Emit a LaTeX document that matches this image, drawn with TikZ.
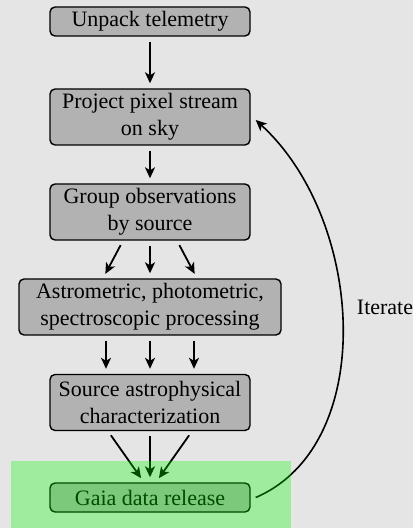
\documentclass[tikz,border=0pt]{standalone}
\usepackage{fontspec}
\setmainfont{Liberation Serif}
\usetikzlibrary{arrows.meta}
\begin{document}
\begin{tikzpicture}[x=0.5pt,y=-0.5pt,
  stage/.style={draw=black,line width=0.7pt,fill=black!30,rounded corners=2.5pt,
    minimum width=100pt,align=center,inner sep=0pt,
    font=\fontsize{11}{13.5}\selectfont},
  oneline/.style={stage,minimum height=14.5pt},
  twoline/.style={stage,minimum height=28pt},
  flow/.style={line width=0.9pt,-{Stealth[length=5.5pt,width=5pt,inset=1.5pt]},
    shorten <=2.5pt,shorten >=2.5pt},
  loop/.style={line width=0.8pt,-{Stealth[length=5.5pt,width=5pt,inset=1.5pt]}},
  highlight/.style={fill={rgb,255:red,0;green,255;blue,0},fill opacity=0.3}]
  % canvas
  \fill[black!10] (0,0) rectangle (413,528);
  \useasboundingbox (0,0) rectangle (413,528);

  % pipeline stages
  \node[oneline] (unpack) at (150,21.5) {Unpack telemetry};
  \node[twoline] (project) at (150,117) {Project pixel stream\\on sky};
  \node[twoline] (group) at (150,212) {Group observations\\by source};
  \node[twoline,minimum width=131pt] (proc) at (150,307) {Astrometric, photometric,\\spectroscopic processing};
  \node[twoline] (charact) at (150,402.5) {Source astrophysical\\characterization};
  \node[oneline] (release) at (150,497.5) {Gaia data release};

  % flow between stages
  \draw[flow] (unpack) -- (project);
  \draw[flow] (project) -- (group);
  \draw[flow] ([xshift=-13.5pt]group.south) -- ([xshift=-23.5pt]proc.north);
  \draw[flow] (group.south) -- (proc.north);
  \draw[flow] ([xshift=13.5pt]group.south) -- ([xshift=23.5pt]proc.north);
  \draw[flow] ([xshift=-22pt]proc.south) -- ([xshift=-22pt]charact.north);
  \draw[flow] (proc.south) -- (charact.north);
  \draw[flow] ([xshift=22pt]proc.south) -- ([xshift=22pt]charact.north);
  \draw[flow] ([xshift=-21pt]charact.south) -- ([xshift=-3pt]release.north);
  \draw[flow] (charact.south) -- (release.north);
  \draw[flow] ([xshift=21pt]charact.south) -- ([xshift=3pt]release.north);

  % feedback loop
  \draw[loop] ([xshift=2.5pt]release.east) .. controls (378,445) and (365,220) .. ([xshift=2.5pt,yshift=-1.5pt]project.east);
  \node[font=\fontsize{11}{13.5}\selectfont] (iter) at (385,307) {Iterate};

  % release highlight
  \fill[highlight] (11,461) rectangle (291,528);
\end{tikzpicture}
\end{document}
